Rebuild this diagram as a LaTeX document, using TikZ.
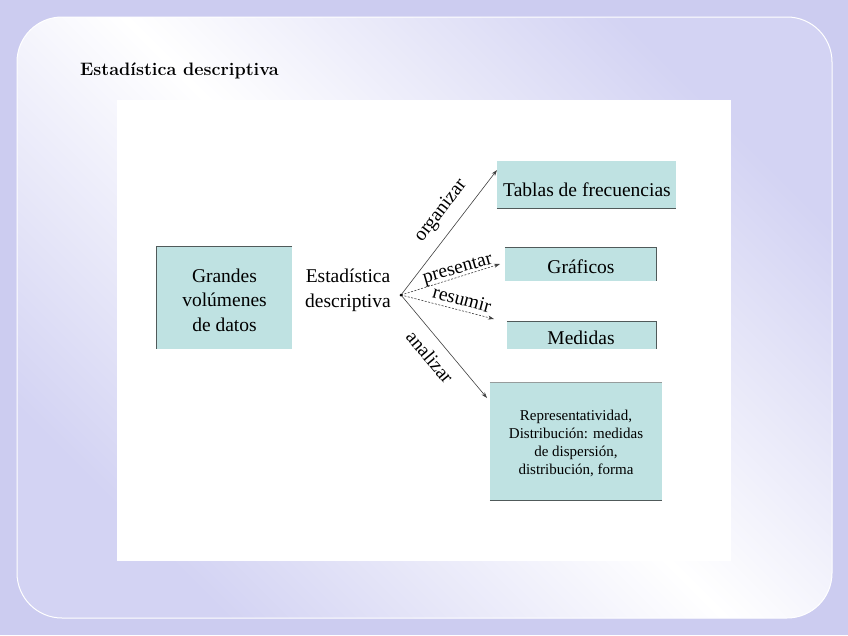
\documentclass[tikz,border=0pt]{standalone}
\usepackage{fontspec}
\newfontfamily\diag{Liberation Serif}
\usetikzlibrary{arrows.meta}
\definecolor{outerbg}{HTML}{CCCCF0}
\definecolor{lav}{HTML}{D3D3F3}
\definecolor{boxfill}{HTML}{BFE2E2}
\definecolor{edge}{HTML}{505A5A}
\tikzset{
  box/.style={fill=boxfill, inner sep=0pt, font=\diag\fontsize{19.5}{24.5}\selectfont, align=center},
  rim/.style={draw=edge, line width=1pt},
  arr/.style={draw=black!75, line width=0.6pt, -{Stealth[length=6pt,width=4pt]}},
  lbl/.style={font=\diag\fontsize{19.5}{23}\selectfont, inner sep=0pt}
}
\begin{document}
\begin{tikzpicture}[x=1pt,y=-1pt]
\useasboundingbox (0,0) rectangle (848,635);
\fill[outerbg] (0,0) rectangle (848,635);
\shade[top color=lav, bottom color=lav, middle color=white, shading angle=-45, rounded corners=45pt]
  (17,17) rectangle (832,618);
\draw[white, line width=1pt, rounded corners=45pt] (17,17) rectangle (832,618);
\node[anchor=base west, font=\bfseries\fontsize{18}{21}\selectfont, inner sep=0pt] (title) at (80,75) {Estadística descriptiva};
\fill[white] (117,100) rectangle (731,561);

% boxes
\node[box, minimum width=135pt, minimum height=102pt] (gr) at (224.5,298) {};
\node[box, fill=none, anchor=center] (grt) at (224.5,300) {Grandes\\vol\'umenes\\de datos};
\draw[rim] (gr.north east) -- (gr.north west) -- (gr.south west);
\node[box, minimum width=179pt, minimum height=47pt] (tab) at (586.5,184.5) {};
\node[box, fill=none] (tabt) at (587,190) {Tablas de frecuencias};
\draw[rim] (tab.south west) -- (tab.south east);
\node[box, minimum width=151pt, minimum height=33pt] (graf) at (580.5,264.5) {};
\node[box, fill=none] (graft) at (581,267) {Gráficos};
\draw[rim] (graf.north west) -- (graf.north east) -- (graf.south east);
\node[box, minimum width=149pt, minimum height=27pt] (med) at (581.5,335.5) {};
\node[box, fill=none] (medt) at (581,338) {Medidas};
\draw[rim] (med.north west) -- (med.north east) -- (med.south east);
\node[box, minimum width=172pt, minimum height=117pt] (rep) at (576,441.5) {};
\node[box, fill=none, font=\diag\fontsize{15}{18}\selectfont] (rept) at (576,443)
  {Representatividad,\\Distribución: medidas\\de dispersión,\\distribución, forma};
\draw[rim, draw=edge!60] (rep.north west) -- (rep.north east);
\draw[rim] (rep.south west) -- (rep.south east);

\node[font=\diag\fontsize{19.5}{25}\selectfont, align=center, inner sep=0pt] (ed) at (348,290) {Estadística\\descriptiva};

\coordinate (c) at (401,295);
\coordinate (e1) at (497,170);
\coordinate (e2) at (500,264);
\coordinate (e3) at (494,319);
\coordinate (e4) at (487,398);
\draw[arr] (c) -- (e1);
\draw[arr, dash pattern=on 2pt off 1.5pt] (c) -- (e2);
\draw[arr, dash pattern=on 2pt off 1.5pt] (c) -- (e3);
\draw[arr] (c) -- (e4);
\fill[black] (c) circle (1.5pt);
\node[lbl, rotate=52.5] (l1) at (441,211) {organizar};
\node[lbl, rotate=16] (l2) at (458,270) {presentar};
\node[lbl, rotate=-15] (l3) at (462,299) {resumir};
\node[lbl, rotate=-50] (l4) at (430,357) {analizar};
\end{tikzpicture}
\end{document}
